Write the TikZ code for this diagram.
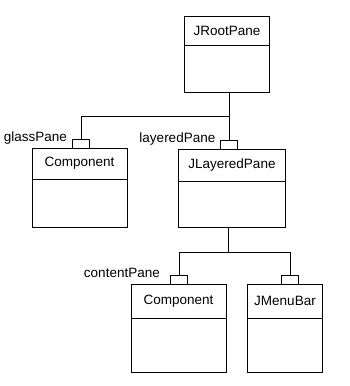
\documentclass[tikz,border=0pt]{standalone}
\usepackage{fontspec}
\setmainfont{Liberation Sans}
\usetikzlibrary{positioning}
\tikzset{
  classhead/.style={rectangle, draw, anchor=north west, outer sep=0pt, inner sep=0pt,
                    line width=1pt, font=\fontsize{13.5}{15}\selectfont},
  classbody/.style={rectangle, draw, outer sep=0pt, inner sep=0pt, line width=1pt},
  tabbox/.style={rectangle, draw, minimum width=17pt, minimum height=8.5pt,
                 outer sep=0pt, inner sep=0pt, line width=1pt},
  panelabel/.style={anchor=base east, inner sep=0pt, font=\fontsize{13.5}{15}\selectfont},
  link/.style={line width=1pt},
}
\begin{document}
\begin{tikzpicture}[x=1pt,y=-1pt]
      \useasboundingbox (0,0) rectangle (349,386);

      % Classes
      \node[classhead, minimum width=85pt, minimum height=29pt] (roothead) at (184.5,16) {JRootPane};
      \node[classbody, minimum width=85pt, minimum height=47pt, below=0pt of roothead] (rootbody) {};

      \node[classhead, minimum width=95pt, minimum height=31pt] (glasshead) at (32,148) {Component};
      \node[classbody, minimum width=95pt, minimum height=48pt, below=0pt of glasshead] (glassbody) {};

      \node[classhead, minimum width=107pt, minimum height=32pt] (layerhead) at (178.5,149) {JLayeredPane};
      \node[classbody, minimum width=107pt, minimum height=46pt, below=0pt of layerhead] (layerbody) {};

      \node[classhead, minimum width=95pt, minimum height=34pt] (contenthead) at (131,284) {Component};
      \node[classbody, minimum width=95pt, minimum height=54pt, below=0pt of contenthead] (contentbody) {};

      \node[classhead, minimum width=75pt, minimum height=34pt] (menuhead) at (247.5,284) {JMenuBar};
      \node[classbody, minimum width=75pt, minimum height=54pt, below=0pt of menuhead] (menubody) {};

      % Qualifier tabs
      \node[tabbox, above=0pt of glasshead.north, xshift=1.5pt] (glasstab) {};
      \node[tabbox, above=0pt of layerhead.north, xshift=-3pt] (layertab) {};
      \node[tabbox, above=0pt of contenthead.north, xshift=0.5pt] (contenttab) {};
      \node[tabbox, above=0pt of menuhead.north, xshift=5pt] (menutab) {};

      % Role names
      \node[panelabel] (glasslabel) at ([xshift=-5.5pt,yshift=6.5pt]glasstab.south west) {glassPane};
      \node[panelabel] (layerlabel) at ([xshift=-5pt,yshift=7pt]layertab.south west) {layeredPane};
      \node[panelabel] (contentlabel) at ([xshift=-10.5pt,yshift=6.5pt]contenttab.south west) {contentPane};

      % Connectors
      \coordinate (rootsplit) at (229,116);
      \coordinate (layersplit) at (228,252.5);
      \draw[link] (rootbody.south -| layertab.north) -- (layertab.north);
      \draw[link] (glasstab.north) |- (rootsplit);
      \draw[link] (layerbody.south -| layersplit) -- (layersplit);
      \draw[link] (contenttab.north) |- (layersplit) -| (menutab.north);
\end{tikzpicture}
\end{document}
